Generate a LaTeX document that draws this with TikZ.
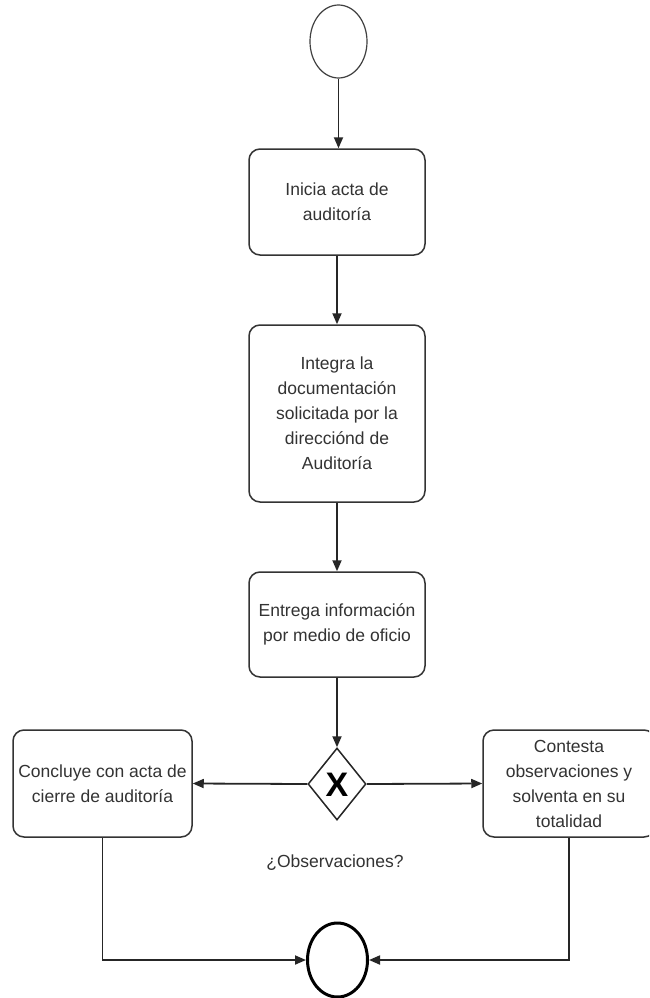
\documentclass[tikz,border=0pt]{standalone}
\usepackage{fontspec}
\setmainfont{Liberation Sans}
\usetikzlibrary{shapes.geometric,arrows.meta}
\begin{document}
\begin{tikzpicture}[x=1pt,y=-1pt,
  every node/.style={font=\fontsize{17.5}{25}\selectfont, text=black!80},
  task/.style={draw=black!80, line width=1.5pt, rounded corners=11pt, align=center, inner sep=0pt},
  conn/.style={draw=black!85, line width=1.8pt, -{Triangle[length=11pt,width=9pt]}},
  flow/.style={draw=black!85, line width=1.8pt}
]
\useasboundingbox (0,0) rectangle (649,998);
\clip (0,0) rectangle (649,998);
\fill[white] (0,0) rectangle (649,998);

\node[draw=black!75, line width=1.2pt, ellipse, minimum width=57pt, minimum height=73pt, inner sep=0pt] (start) at (338.5,41.5) {};
\node[task, minimum width=176pt, minimum height=106pt] (b1) at (337,202) {Inicia acta de\\auditoría};
\node[task, minimum width=176pt, minimum height=177pt] (b2) at (337,413.5) {Integra la\\documentación\\solicitada por la\\direcciónd de\\Auditoría};
\node[task, minimum width=176pt, minimum height=105pt] (b3) at (337,624.5) {Entrega información\\por medio de oficio};
\node[draw=black!85, line width=1.5pt, diamond, minimum width=58pt, minimum height=72pt, inner sep=0pt] (gw) at (337,784) {};
\node[font=\fontsize{34}{34}\selectfont\bfseries, text=black, inner sep=0pt] (gx) at (337,785) {X};
\node[task, minimum width=179pt, minimum height=107pt] (lb) at (102.5,783.5) {Concluye con acta de\\cierre de auditoría};
\node[task, minimum width=172pt, minimum height=107pt] (rb) at (569,783.5) {Contesta\\observaciones y\\solventa en su\\totalidad};
\node[draw=black, line width=3pt, ellipse, minimum width=60pt, minimum height=74pt, inner sep=0pt] (end) at (337.5,960) {};
\node (lbl) at (335,863) {¿Observaciones?};

\draw[conn] (start.south) -- (start.south |- b1.north);
\draw[conn] (b1.south) -- (b2.north);
\draw[conn] (b2.south) -- (b3.north);
\draw[conn] (b3.south) -- (gw.north);
\draw[conn] (gw.west) -- (lb.east);
\draw[conn] (gw.east) -- (rb.west);
\draw[conn] (lb.south) |- (end.west);
\draw[conn] (rb.south) |- (end.east);
\end{tikzpicture}
\end{document}
